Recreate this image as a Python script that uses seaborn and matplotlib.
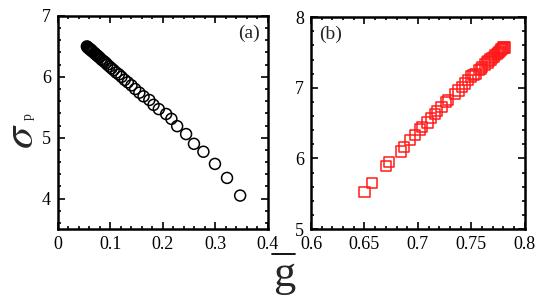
import numpy as np
import pandas as pd
import matplotlib
matplotlib.use("Agg")
import matplotlib.pyplot as plt
from matplotlib.lines import Line2D
from matplotlib.ticker import MultipleLocator, FuncFormatter
import seaborn as sns

# panel (a): mean g vs sigma_p (circles)
g_a = [0.055, 0.056, 0.057, 0.058, 0.059, 0.060, 0.061, 0.062, 0.063, 0.064,
       0.065, 0.067, 0.069, 0.071, 0.073, 0.075, 0.077, 0.079, 0.082, 0.085,
       0.088, 0.091, 0.094, 0.098, 0.102, 0.106, 0.111, 0.116, 0.121, 0.127,
       0.133, 0.140, 0.147, 0.155, 0.163, 0.174, 0.182, 0.192, 0.206, 0.216,
       0.227, 0.244, 0.259, 0.277, 0.299, 0.322, 0.347]
sig_a = [6.50, 6.49, 6.48, 6.47, 6.47, 6.46, 6.45, 6.45, 6.44, 6.43,
         6.42, 6.41, 6.39, 6.38, 6.36, 6.35, 6.33, 6.32, 6.29, 6.27,
         6.25, 6.23, 6.20, 6.17, 6.14, 6.11, 6.07, 6.04, 6.00, 5.95,
         5.91, 5.86, 5.80, 5.74, 5.68, 5.62, 5.54, 5.47, 5.39, 5.31,
         5.19, 5.06, 4.90, 4.77, 4.57, 4.34, 4.05]

# panel (b): mean g vs sigma_p (squares)
g_b = [0.650, 0.657, 0.670, 0.673, 0.684, 0.687, 0.6925, 0.697, 0.702, 0.704,
       0.709, 0.712, 0.716, 0.718, 0.722, 0.726, 0.728, 0.7345, 0.738, 0.741,
       0.744, 0.747, 0.750, 0.752, 0.754, 0.757, 0.759, 0.760, 0.763, 0.765,
       0.766, 0.768, 0.769, 0.771, 0.772, 0.774, 0.775, 0.776, 0.777, 0.778,
       0.779, 0.7795, 0.780, 0.781]
sig_b = [5.52, 5.65, 5.89, 5.95, 6.10, 6.16, 6.26, 6.33, 6.41, 6.44,
         6.51, 6.57, 6.63, 6.67, 6.73, 6.80, 6.83, 6.91, 6.96, 7.01,
         7.06, 7.11, 7.16, 7.18, 7.20, 7.25, 7.27, 7.29, 7.33, 7.36,
         7.38, 7.40, 7.42, 7.44, 7.46, 7.48, 7.49, 7.51, 7.52, 7.54,
         7.55, 7.56, 7.57, 7.57]

df_a = pd.DataFrame({"g": g_a, "sigma": sig_a})
df_b = pd.DataFrame({"g": g_b, "sigma": sig_b})

sns.set_style("ticks")
plt.rcParams["font.family"] = ["Liberation Serif", "DejaVu Serif"]
plt.rcParams["mathtext.fontset"] = "stix"

fig = plt.figure(figsize=(5.44, 3.01), dpi=100)
ax1 = fig.add_axes([0.1066, 0.239, 0.386, 0.708])
ax2 = fig.add_axes([0.5717, 0.239, 0.393, 0.704])

sns.scatterplot(data=df_a, x="g", y="sigma", ax=ax1, marker="o", s=62,
                facecolors="none", edgecolor="black", linewidth=1.1)
sns.scatterplot(data=df_b, x="g", y="sigma", ax=ax2, marker="s", s=55,
                facecolors="none", edgecolor="#ff1a1a", linewidth=1.1)

fmt = FuncFormatter(lambda v, p: "%g" % round(v, 4))

ax1.set_xlim(0, 0.4)
ax1.set_ylim(3.5, 7)
ax1.xaxis.set_major_locator(MultipleLocator(0.1))
ax1.xaxis.set_minor_locator(MultipleLocator(0.02))
ax1.yaxis.set_major_locator(MultipleLocator(1))
ax1.yaxis.set_minor_locator(MultipleLocator(0.2))

ax2.set_xlim(0.6, 0.8)
ax2.set_ylim(5, 8)
ax2.xaxis.set_major_locator(MultipleLocator(0.05))
ax2.xaxis.set_minor_locator(MultipleLocator(0.01))
ax2.yaxis.set_major_locator(MultipleLocator(1))
ax2.yaxis.set_minor_locator(MultipleLocator(0.2))

for ax in (ax1, ax2):
    ax.xaxis.set_major_formatter(fmt)
    ax.yaxis.set_major_formatter(fmt)
    ax.set_xlabel("")
    ax.set_ylabel("")
    ax.tick_params(which="both", direction="in", top=True, right=True,
                   labelsize=13, width=1.2, pad=5, color="black", labelcolor="black")
    ax.tick_params(which="major", length=5)
    ax.tick_params(which="minor", length=2.5)
    for sp in ax.spines.values():
        sp.set_linewidth(1.8)
        sp.set_color("black")
        sp.set_visible(True)

ax1.text(0.96, 0.96, "(a)", transform=ax1.transAxes, ha="right", va="top", fontsize=14)
ax2.text(0.04, 0.96, "(b)", transform=ax2.transAxes, ha="left", va="top", fontsize=14)

# y label: big sigma with a small p
fig.text(0.040, 0.548, r"$\sigma$", rotation=90, ha="center", va="center", fontsize=32)
fig.text(0.052, 0.612, "p", rotation=90, ha="center", va="center", fontsize=10)

# x label: g with an overbar
fig.text(0.522, 0.085, "g", ha="center", va="center", fontsize=32)
fig.add_artist(Line2D([272 / 544, 295 / 544], [1 - 254 / 301, 1 - 254 / 301],
                      color="black", linewidth=1.3, transform=fig.transFigure))

plt.savefig("out.png", dpi=100)
